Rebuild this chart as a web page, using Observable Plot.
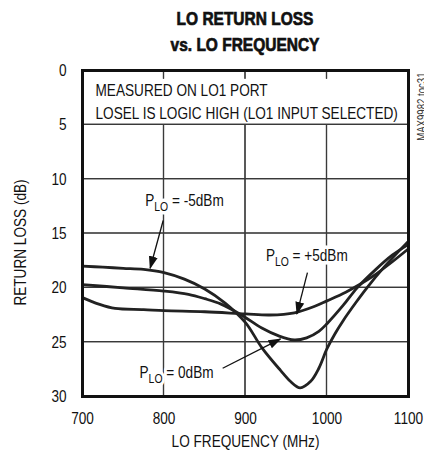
<!DOCTYPE html>
<html><head><meta charset="utf-8">
<script src="https://cdn.jsdelivr.net/npm/d3@7"></script>
<script src="https://cdn.jsdelivr.net/npm/@observablehq/plot@0.6"></script>
<style>
body{margin:0;background:#fff;}
#title{font-family:"Liberation Sans",Arial,sans-serif;font-weight:bold;font-size:18px;text-align:center;width:424px;padding-left:66px;box-sizing:border-box;line-height:26px;padding-top:6px;height:60px;color:#111;transform:scaleX(0.86);transform-origin:245px 0;-webkit-text-stroke:0.7px #111;}
#chart svg{display:block}
</style></head><body>
<div id="title">LO RETURN LOSS<br>vs. LO FREQUENCY</div>
<div id="chart"></div>
<script>
// data
const xTicks = [700, 800, 900, 1000, 1100];
const yTicks = [0, 5, 10, 15, 20, 25, 30];
const seriesNames = ["PLO = -5dBm", "PLO = 0dBm", "PLO = +5dBm"];
const freqM5 = [700,725,750,775,800,825,850,875,900,920,943,955,967,980,990,1000,1010,1020,1035,1049,1070,1100];
const rlM5   = [18.0,18.1,18.2,18.3,18.6,19.2,20.1,21.4,23.2,25.5,27.6,28.6,29.2,28.6,27.4,25.6,24.2,23.0,21.4,20.0,18.1,15.7];
const freq0  = [700,750,800,830,850,870,895,920,940,960,975,990,1000,1020,1037,1060,1080,1100];
const rl0    = [19.7,20.0,20.3,20.6,21.0,21.5,22.5,23.7,24.4,24.8,24.6,24.0,23.3,21.6,20.0,18.3,17.0,16.0];
const freqP5 = [700,720,740,775,800,850,900,930,960,985,1000,1023,1040,1057,1075,1100];
const rlP5   = [20.9,21.5,21.9,22.0,22.1,22.2,22.4,22.5,22.3,21.7,21.2,20.4,19.7,18.9,17.9,16.4];

const noteLines = ["MEASURED ON LO1 PORT", "LOSEL IS LOGIC HIGH (LO1 INPUT SELECTED)"];
const noteFreq = [716, 716];
const noteRL = [1.84, 3.93];

const labelText = ["P|LO| = -5dBm", "P|LO| = +5dBm", "P|LO| = 0dBm"];
const labelFreq = [777, 925, 770];
const labelRL = [12.0, 17.0, 27.8];

const arrowFreq1 = [799, 976, 872];
const arrowRL1 = [13.8, 18.6, 27.4];
const arrowFreq2 = [783, 963, 943];
const arrowRL2 = [18.2, 22.4, 24.7];

const sideNote = "MAX9982 toc31";
const xLabel = "LO FREQUENCY (MHz)";
const yLabel = "RETURN LOSS (dB)";

// build tables
const rows = [];
[[freqM5, rlM5], [freq0, rl0], [freqP5, rlP5]].forEach(([f, r], i) =>
  f.forEach((v, j) => rows.push({series: seriesNames[i], f: v, rl: r[j]})));
const notes = noteLines.map((t, i) => ({t, f: noteFreq[i], rl: noteRL[i]}));
const labels = labelText.map((t, i) => ({t, f: labelFreq[i], rl: labelRL[i]}));
const arrows = arrowFreq1.map((f1, i) => ({f1, r1: arrowRL1[i], f2: arrowFreq2[i], r2: arrowRL2[i]}));
const yMin = yTicks[0], yMax = yTicks[yTicks.length - 1];
const xMin = xTicks[0], xMax = xTicks[xTicks.length - 1];
// grid segments: vertical stubs at top, gap behind the note box, then down to the bottom
const vSegs = xTicks.flatMap(x => [{x1: x, x2: x, y1: yMin, y2: 0.8}, {x1: x, x2: x, y1: 5, y2: yMax}]);
const hSegs = yTicks.map(y => ({x1: xMin, x2: xMax, y1: y, y2: y}));

const filledArrow = (color, context) => {
  const m = d3.create("svg:marker")
    .attr("viewBox", "0 -5 13 10")
    .attr("markerWidth", 13).attr("markerHeight", 10)
    .attr("markerUnits", "userSpaceOnUse")
    .attr("refX", 12).attr("refY", 0)
    .attr("orient", "auto");
  m.append("path").attr("d", "M0,-4.5L13,0L0,4.5Z").attr("fill", "#111").attr("stroke", "none");
  return m.node();
};

const font = '"Liberation Sans",Arial,sans-serif';

const chart = Plot.plot({
  width: 424, height: 395,
  marginTop: 10, marginBottom: 59, marginLeft: 82, marginRight: 16,
  x: {domain: [700, 1100]},
  y: {domain: [0, 30], reverse: true},
  style: {fontFamily: font, fontSize: "17px", color: "#111"},
  marks: [
    // grid drawn as thin filled bars
    Plot.rect(vSegs, {x1: "x1", x2: "x2", y1: "y1", y2: "y2", insetLeft: -0.6, insetRight: -0.6, fill: "#3a3a3a"}),
    Plot.rect(hSegs, {x1: "x1", x2: "x2", y1: "y1", y2: "y2", insetTop: -0.6, insetBottom: -0.6, fill: "#3a3a3a"}),
    Plot.line(rows, {x: "f", y: "rl", z: "series", curve: "catmull-rom", stroke: "#222", strokeWidth: 2.8}),
    Plot.link(arrows, {x1: "f1", y1: "r1", x2: "f2", y2: "r2", stroke: "#111", strokeWidth: 1.3, markerEnd: filledArrow}),
    Plot.text(notes, {x: "f", y: "rl", text: "t", textAnchor: "start", fontSize: 17, fill: "#111"}),
    Plot.text(labels, {x: "f", y: "rl", text: "t", textAnchor: "start", fontSize: 17, fill: "#111", stroke: "white", strokeWidth: 7}),
    Plot.frame({stroke: "#111", strokeWidth: 3}),
    Plot.axisX(xTicks, {tickSize: 0, tickPadding: 15, label: null, fontSize: 17, tickFormat: d => String(d)}),
    Plot.axisY(yTicks, {tickSize: 0, tickPadding: 16, label: null, fontSize: 17, tickFormat: d => String(d)}),
    Plot.text([xLabel], {text: d => d, frameAnchor: "bottom", textAnchor: "middle", dy: 50, fontSize: 17}),
    Plot.text([yLabel], {text: d => d, frameAnchor: "left", textAnchor: "middle", rotate: -90, dx: -62, dy: 9, fontSize: 17}),
    Plot.text([sideNote], {text: d => d, frameAnchor: "top-right", rotate: -90, dx: 9, dy: 2, textAnchor: "end", fontSize: 12, fill: "#333"})
  ]
});

// backup grid: same segments through Plot's own scales, placed beneath every mark
try {
  const sx = chart.scale("x"), sy = chart.scale("y");
  const g = d3.create("svg:g").attr("stroke", "#3a3a3a").attr("stroke-width", 1.2).attr("fill", "none");
  vSegs.concat(hSegs).forEach(s => {
    g.append("line")
      .attr("x1", sx.apply(s.x1)).attr("x2", sx.apply(s.x2))
      .attr("y1", sy.apply(s.y1)).attr("y2", sy.apply(s.y2));
  });
  const firstG = chart.querySelector(":scope > g");
  chart.insertBefore(g.node(), firstG);
} catch (e) { /* scales unavailable: keep the rect grid */ }

// subscripts for P_LO labels
d3.select(chart).selectAll("text").each(function() {
  const s = this.textContent;
  if (s.includes("|")) {
    const parts = s.split("|");
    const t = d3.select(this);
    t.selectAll("*").remove();
    t.text(null);
    t.append("tspan").text(parts[0]);
    t.append("tspan").attr("font-size", 13).attr("dy", 5).text(parts[1]);
    t.append("tspan").attr("dy", -5).text(parts[2]);
  }
});

document.getElementById("chart").append(chart);

// emulate the condensed face of the original by narrowing the glyphs
d3.select(chart).selectAll("text").each(function() {
  const len = this.getComputedTextLength();
  if (len > 0) {
    this.setAttribute("textLength", (len * 0.8).toFixed(1));
    this.setAttribute("lengthAdjust", "spacingAndGlyphs");
  }
});
</script>
</body></html>
